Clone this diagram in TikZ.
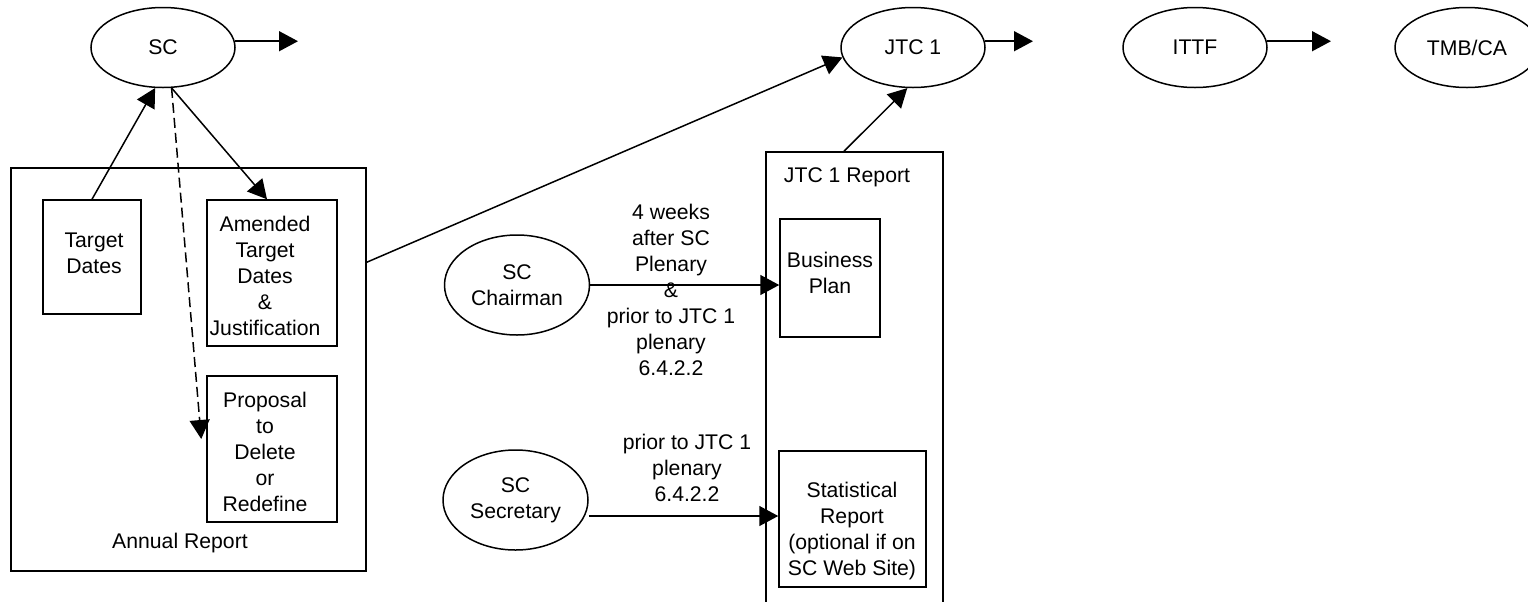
\documentclass[tikz,border=0pt]{standalone}
\usepackage{fontspec}
\setmainfont{Liberation Sans}
\usetikzlibrary{shapes.geometric,arrows.meta,calc}
\begin{document}
\begin{tikzpicture}[x=0.5pt,y=-0.5pt,
  every node/.style={font=\fontsize{10.6}{13}\selectfont},
  ln/.style={line width=0.75pt},
  box/.style={ln,draw,rectangle,align=center,inner sep=0pt},
  oval/.style={ln,draw,ellipse,align=center,inner sep=0pt,minimum width=72pt,minimum height=40pt},
  arr/.style={ln,-{Triangle[length=9.5pt,width=10pt]}},
  txt/.style={align=center,inner sep=0pt}]
\useasboundingbox (0,0) rectangle (1528,601);

% top row
\node[oval] (sc) at (163,47.5) {SC};
\node[oval] (jtc) at (913,47.5) {JTC 1};
\node[oval] (ittf) at (1195,47.5) {ITTF};
\node[oval] (tmb) at (1467,47.5) {TMB/CA};
\coordinate (scout) at (298,41);
\coordinate (jtcout) at (1033,41);
\coordinate (ittfout) at (1331,41);

% annual report
\node[box,minimum width=177.5pt,minimum height=201.5pt] (ann) at (188.5,369.5) {};
\node[txt] (annlbl) at (180,543) {Annual Report};
\node[box,minimum width=49pt,minimum height=57pt] (td) at (92,257) {};
\node[txt] (tdtxt) at (94,253) {Target\\Dates};
\node[box,minimum width=65pt,minimum height=73pt] (am) at (272,273) {};
\node[txt] (amtxt) at (265,276) {Amended\\Target\\Dates\\\&\\Justification};
\node[box,minimum width=65pt,minimum height=73pt] (pr) at (272,449) {};
\node[txt] (prtxt) at (265,452) {Proposal\\to\\Delete\\or\\Redefine};

% JTC 1 report
\node[box,minimum width=88.5pt,minimum height=244pt] (rep) at (854.5,396) {};
\node[txt] (replbl) at (847,177) {JTC 1 Report};
\node[box,minimum width=50pt,minimum height=59pt] (bp) at (830,278) {};
\node[txt] (bptxt) at (830,273) {Business\\Plan};
\node[box,minimum width=73.5pt,minimum height=68pt] (st) at (852.5,519) {};
\node[txt] (sttxt) at (852,531) {Statistical\\Report\\(optional if on\\SC Web Site)};

% sources
\node[oval,minimum width=72.5pt,minimum height=50pt] (chair) at (517,285) {SC\\Chairman};
\node[oval,minimum width=72.5pt,minimum height=50pt] (sec) at (515.5,500) {SC\\Secretary};
\node[txt] (chl) at (671,290) {4 weeks\\after SC\\Plenary\\\&\\prior to JTC 1\\plenary\\6.4.2.2};
\node[txt] (sel) at (687,468) {prior to JTC 1\\plenary\\6.4.2.2};

% connectors
\draw[arr] (sc.5) -- (sc.5 -| scout);
\draw[arr] (jtc.5) -- (jtc.5 -| jtcout);
\draw[arr] (ittf.5) -- (ittf.5 -| ittfout);
\draw[arr] (td.north) -- (sc.-101);
\draw[arr] (sc.-78) -- ($(am.north)+(-5,0)$);
\draw[arr,dash pattern=on 5pt off 2.5pt] (sc.-78) -- ($(pr.west)+(-5,-10)$);
\draw[arr] ($(ann.north east)+(0,95)$) -- (jtc.188);
\draw[arr] ($(rep.north)+(-10.5,0)$) -- (jtc.-98);
\draw[arr] (chair.east) -- (chair.east -| bp.west);
\coordinate (secout) at ($(sec.east)+(0,16)$);
\draw[arr] (secout) -- (secout -| st.west);
\end{tikzpicture}
\end{document}
